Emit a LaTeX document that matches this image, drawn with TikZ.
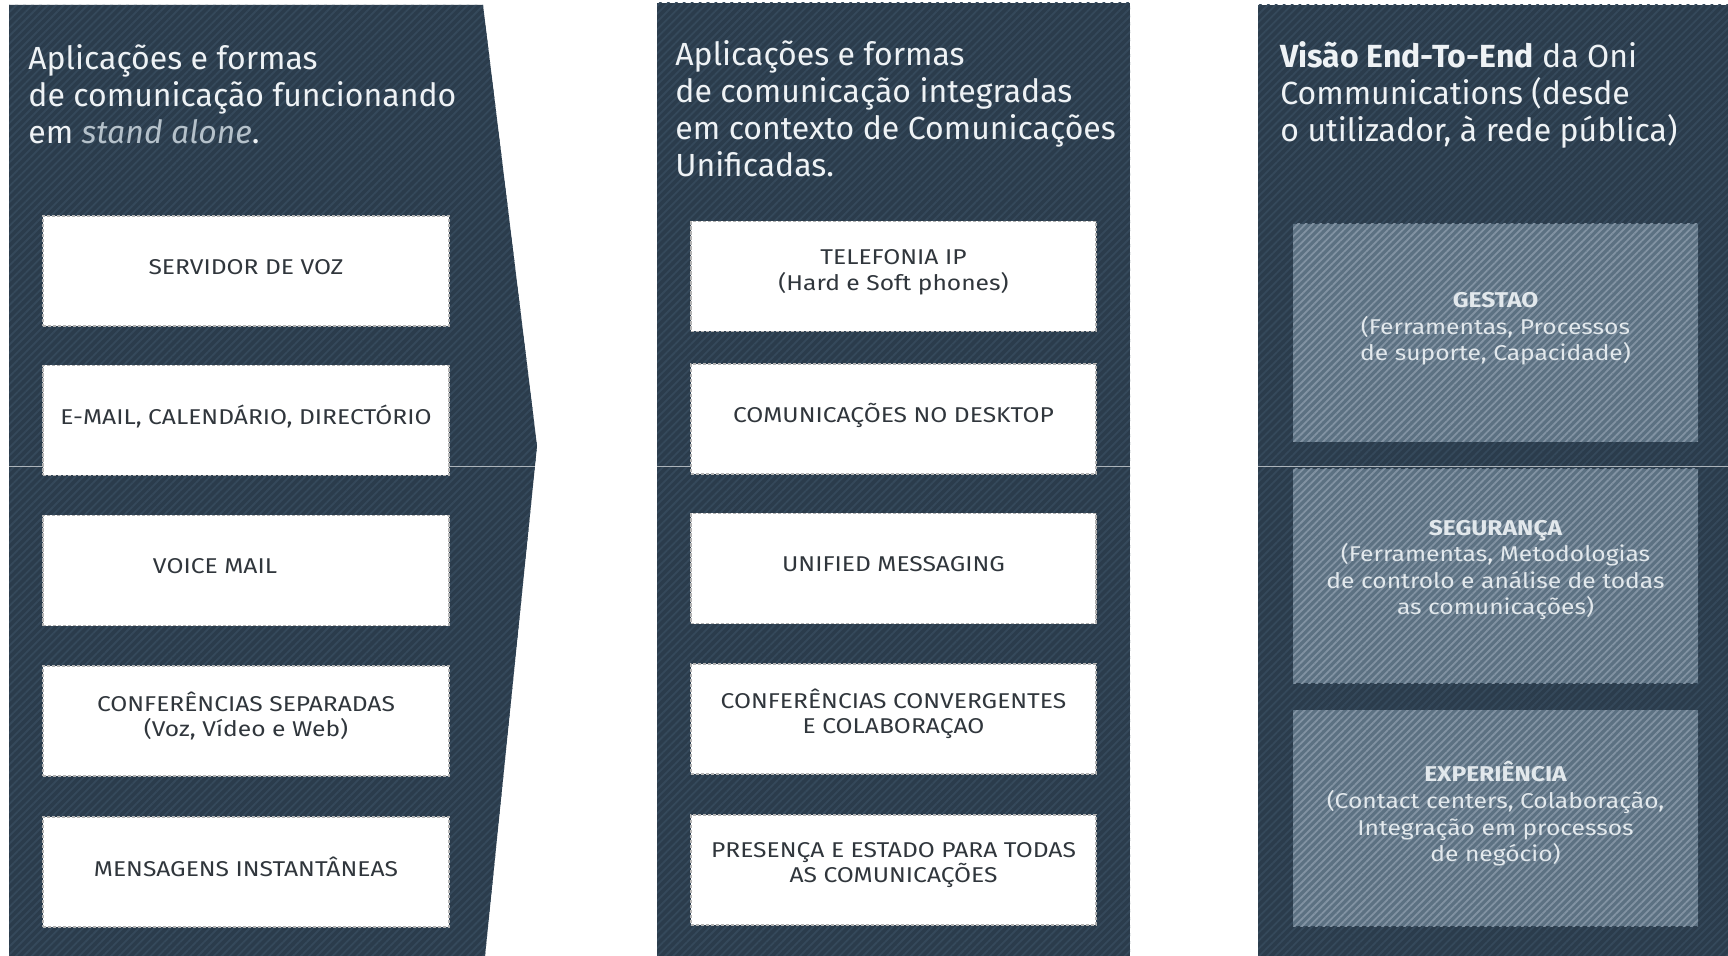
\documentclass[tikz,border=0pt]{standalone}
\usepackage{fontspec}
\setmainfont{Fira Sans}
\newfontfamily\boxfont[FakeStretch=1.15]{Fira Sans}
\usetikzlibrary{patterns.meta}
\definecolor{panel}{HTML}{2B3C4C}
\definecolor{panelstripe}{HTML}{35495B}
\definecolor{hbox}{HTML}{5C7182}
\definecolor{hboxstripe}{HTML}{8293A3}
\definecolor{titletext}{HTML}{EEF2F5}
\definecolor{softtext}{HTML}{B5C1CA}
\definecolor{boxtext}{HTML}{30363C}
\definecolor{lighttext}{HTML}{E2E8EC}
\begin{document}
\begin{tikzpicture}[x=0.5pt,y=-0.5pt,
  panelfill/.style={fill=panel, postaction={pattern={Lines[angle=45,distance=2.8pt,line width=0.9pt]}, pattern color=panelstripe}},
  hatchbox/.style={fill=hbox, postaction={pattern={Lines[angle=45,distance=2.6pt,line width=0.9pt]}, pattern color=hboxstripe},
    inner sep=0, minimum width=202.5pt, minimum height=108pt},
  whitebox/.style={draw=gray!60, dash pattern=on 1.6pt off 0.9pt, line width=0.7pt, fill=white,
    inner sep=0, minimum width=203pt, minimum height=55pt},
  title/.style={text=titletext, font=\fontsize{16}{19}\selectfont, anchor=base west, inner sep=0},
  boxlabel/.style={text=boxtext, font=\boxfont\fontsize{10.7}{12.75}\selectfont, align=center, inner sep=0},
  rlabel/.style={text=lighttext, font=\boxfont\fontsize{10.7}{13.3}\selectfont, align=center, inner sep=0}]
\useasboundingbox (0,0) rectangle (1728,956);
\fill[white] (0,0) rectangle (1728,956);

% panels
\path[panelfill] (9,5) -- (483,5) -- (537,446) -- (485,956) -- (9,956) -- cycle;
\path[panelfill] (657,3) rectangle (1130,956);
\path[panelfill] (1258,5) rectangle (1728,956);

% faint seam line across the picture (visible only on the dark panels)
\draw[white, opacity=0.6, line width=0.5pt] (0,467) -- (1728,467);

% titles
\node[title] (lt1) at (28,70) {Aplicações e formas};
\node[title] (lt2) at (28,107) {de comunicação funcionando};
\node[title] (lt3) at (28,144) {em {\itshape\color{softtext}stand alone}.};

\node[title] (mt1) at (675,66) {Aplicações e formas};
\node[title] (mt2) at (675,103) {de comunicação integradas};
\node[title] (mt3) at (675,140) {em contexto de Comunicações};
\node[title] (mt4) at (675,177) {Unificadas.};

\node[title] (rt1) at (1280,68) {{\bfseries Visão End-To-End} da Oni};
\node[title] (rt2) at (1280,105) {Communications (desde};
\node[title] (rt3) at (1280,142) {o utilizador, à rede pública)};

% left boxes
\node[whitebox] (l1) at (246,271) {};
\node[whitebox] (l2) at (246,420.5) {};
\node[whitebox] (l3) at (246,570.5) {};
\node[whitebox] (l4) at (246,721) {};
\node[whitebox] (l5) at (246,872) {};
\node[boxlabel, yshift=2pt] (l1t) at (l1.center) {SERVIDOR DE VOZ};
\node[boxlabel, yshift=2pt] (l2t) at (l2.center) {E-MAIL, CALENDÁRIO, DIRECTÓRIO};
\node[boxlabel, yshift=2pt, xshift=-15.5pt] (l3t) at (l3.center) {VOICE MAIL};
\node[boxlabel, yshift=2.5pt] (l4t) at (l4.center) {CONFERÊNCIAS SEPARADAS\\(Voz, Vídeo e Web)};
\node[boxlabel, yshift=2.5pt] (l5t) at (l5.center) {MENSAGENS INSTANTÂNEAS};

% middle boxes
\node[whitebox, minimum width=202.5pt] (m1) at (893.5,276.5) {};
\node[whitebox, minimum width=202.5pt] (m2) at (893.5,419) {};
\node[whitebox, minimum width=202.5pt] (m3) at (893.5,568.5) {};
\node[whitebox, minimum width=202.5pt] (m4) at (893.5,719) {};
\node[whitebox, minimum width=202.5pt] (m5) at (893.5,870) {};
\node[boxlabel, yshift=2pt] (m1t) at (m1.center) {TELEFONIA IP\\(Hard e Soft phones)};
\node[boxlabel, yshift=2pt] (m2t) at (m2.center) {COMUNICAÇÕES NO DESKTOP};
\node[boxlabel, yshift=2pt] (m3t) at (m3.center) {UNIFIED MESSAGING};
\node[boxlabel, yshift=2.5pt] (m4t) at (m4.center) {CONFERÊNCIAS CONVERGENTES\\E COLABORAÇAO};
\node[boxlabel, yshift=2.5pt] (m5t) at (m5.center) {PRESENÇA E ESTADO PARA TODAS\\AS COMUNICAÇÕES};

% right boxes
\node[hatchbox, minimum height=109pt] (r1) at (1495.5,333) {};
\node[hatchbox, minimum height=107pt] (r2) at (1495.5,576) {};
\node[hatchbox] (r3) at (1495.5,818) {};
\node[rlabel, yshift=2pt] (r1t) at (r1.center) {{\bfseries GESTAO}\\(Ferramentas, Processos\\de suporte, Capacidade)};
\node[rlabel, yshift=3pt] (r2t) at (r2.center) {{\bfseries SEGURANÇA}\\(Ferramentas, Metodologias\\de controlo e análise de todas\\as comunicações)};
\node[rlabel, yshift=2pt] (r3t) at (r3.center) {{\bfseries EXPERIÊNCIA}\\(Contact centers, Colaboração,\\Integração em processos\\de negócio)};
\end{tikzpicture}
\end{document}
